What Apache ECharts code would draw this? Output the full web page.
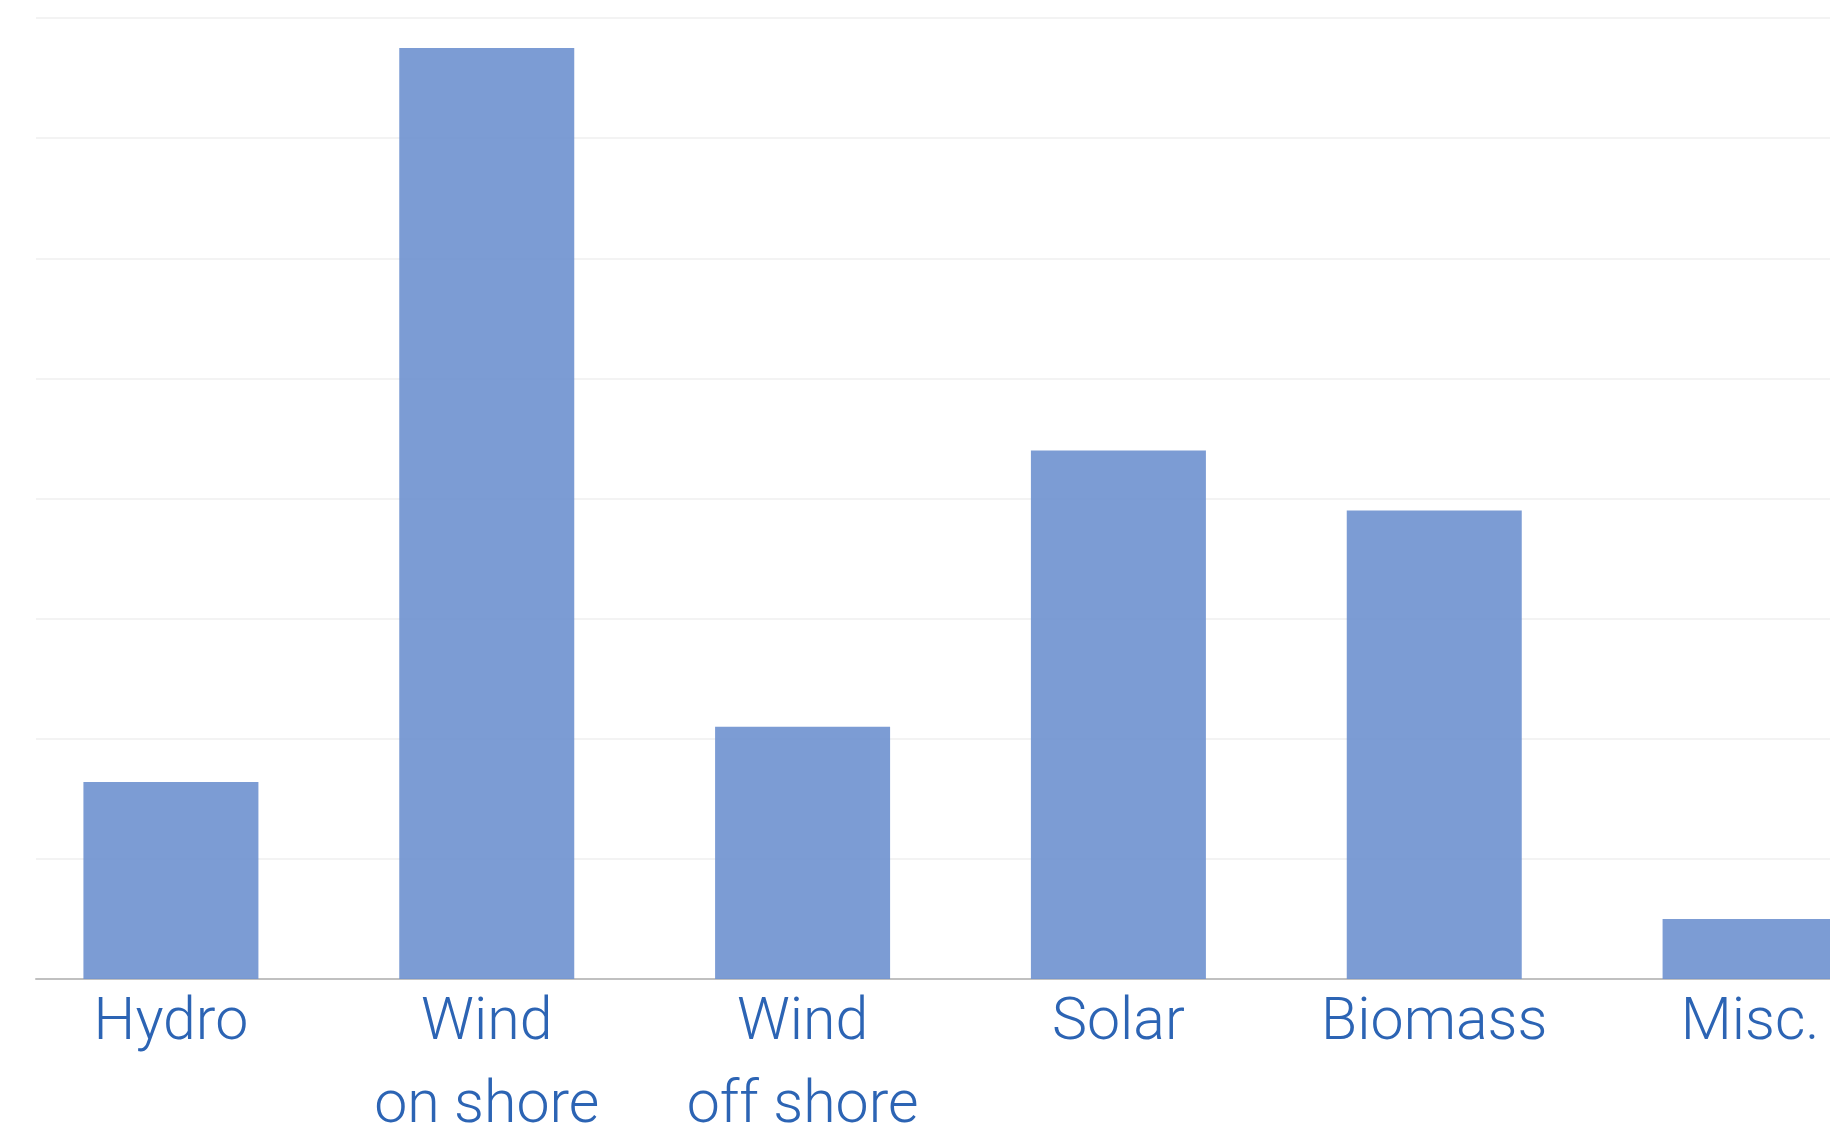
<!DOCTYPE html>
<html>
<head>
<meta charset="utf-8">
<title>Renewable generation by source</title>
<script src="https://cdn.jsdelivr.net/npm/echarts@6/dist/echarts.min.js"></script>
<style>
  html, body { margin: 0; padding: 0; background: #ffffff; }
  #chart { width: 1830px; height: 1135px; }
</style>
</head>
<body>
<div id="chart"></div>
<script>
// Energy sources along the category axis
const categories = ['Hydro', 'Wind\non shore', 'Wind\noff shore', 'Solar', 'Biomass', 'Misc.'];
// Bar heights, in units of one gridline step
const values = [1.64, 7.75, 2.1, 4.4, 3.9, 0.5];
// Value scale: 0 to 8 with a gridline at every unit
const yMin = 0;
const yMax = 8;
const yStep = 1;

const labelColor = '#2c64b4';
const barColor = 'rgba(113, 148, 208, 0.92)';

const chart = echarts.init(document.getElementById('chart'), null, { renderer: 'canvas' });

chart.setOption({
  backgroundColor: '#ffffff',
  animation: false,
  grid: [
    // frame grid: horizontal gridlines and the baseline
    { left: 36, right: -100, top: 18, bottom: 156, containLabel: false, outerBoundsMode: 'none' },
    // bar grid: categories laid out over the same vertical range
    { left: 13, right: -78, top: 18, bottom: 156, containLabel: false, outerBoundsMode: 'none' }
  ],
  xAxis: [
    {
      type: 'category',
      gridIndex: 0,
      data: categories,
      axisLine: { show: true, lineStyle: { color: '#c0c0c0', width: 2 } },
      axisTick: { show: false },
      axisLabel: { show: false },
      splitLine: { show: false }
    },
    {
      type: 'category',
      gridIndex: 1,
      data: categories,
      axisLine: { show: false },
      axisTick: { show: false },
      splitLine: { show: false },
      axisLabel: {
        show: true,
        interval: 0,
        hideOverlap: false,
        margin: 4,
        color: labelColor,
        fontFamily: 'Roboto',
        fontWeight: 300,
        fontSize: 59,
        lineHeight: 83,
        align: 'center',
        verticalAlign: 'top'
      }
    }
  ],
  yAxis: [
    {
      type: 'value',
      gridIndex: 0,
      min: yMin,
      max: yMax,
      interval: yStep,
      axisLine: { show: false },
      axisTick: { show: false },
      axisLabel: { show: false },
      splitLine: { show: true, lineStyle: { color: '#efefef', width: 1.5 } }
    },
    {
      type: 'value',
      gridIndex: 1,
      min: yMin,
      max: yMax,
      interval: yStep,
      axisLine: { show: false },
      axisTick: { show: false },
      axisLabel: { show: false },
      splitLine: { show: false }
    }
  ],
  series: [
    {
      type: 'bar',
      xAxisIndex: 1,
      yAxisIndex: 1,
      data: values,
      barWidth: 175,
      itemStyle: { color: barColor },
      z: 2
    }
  ]
});
</script>
</body>
</html>
